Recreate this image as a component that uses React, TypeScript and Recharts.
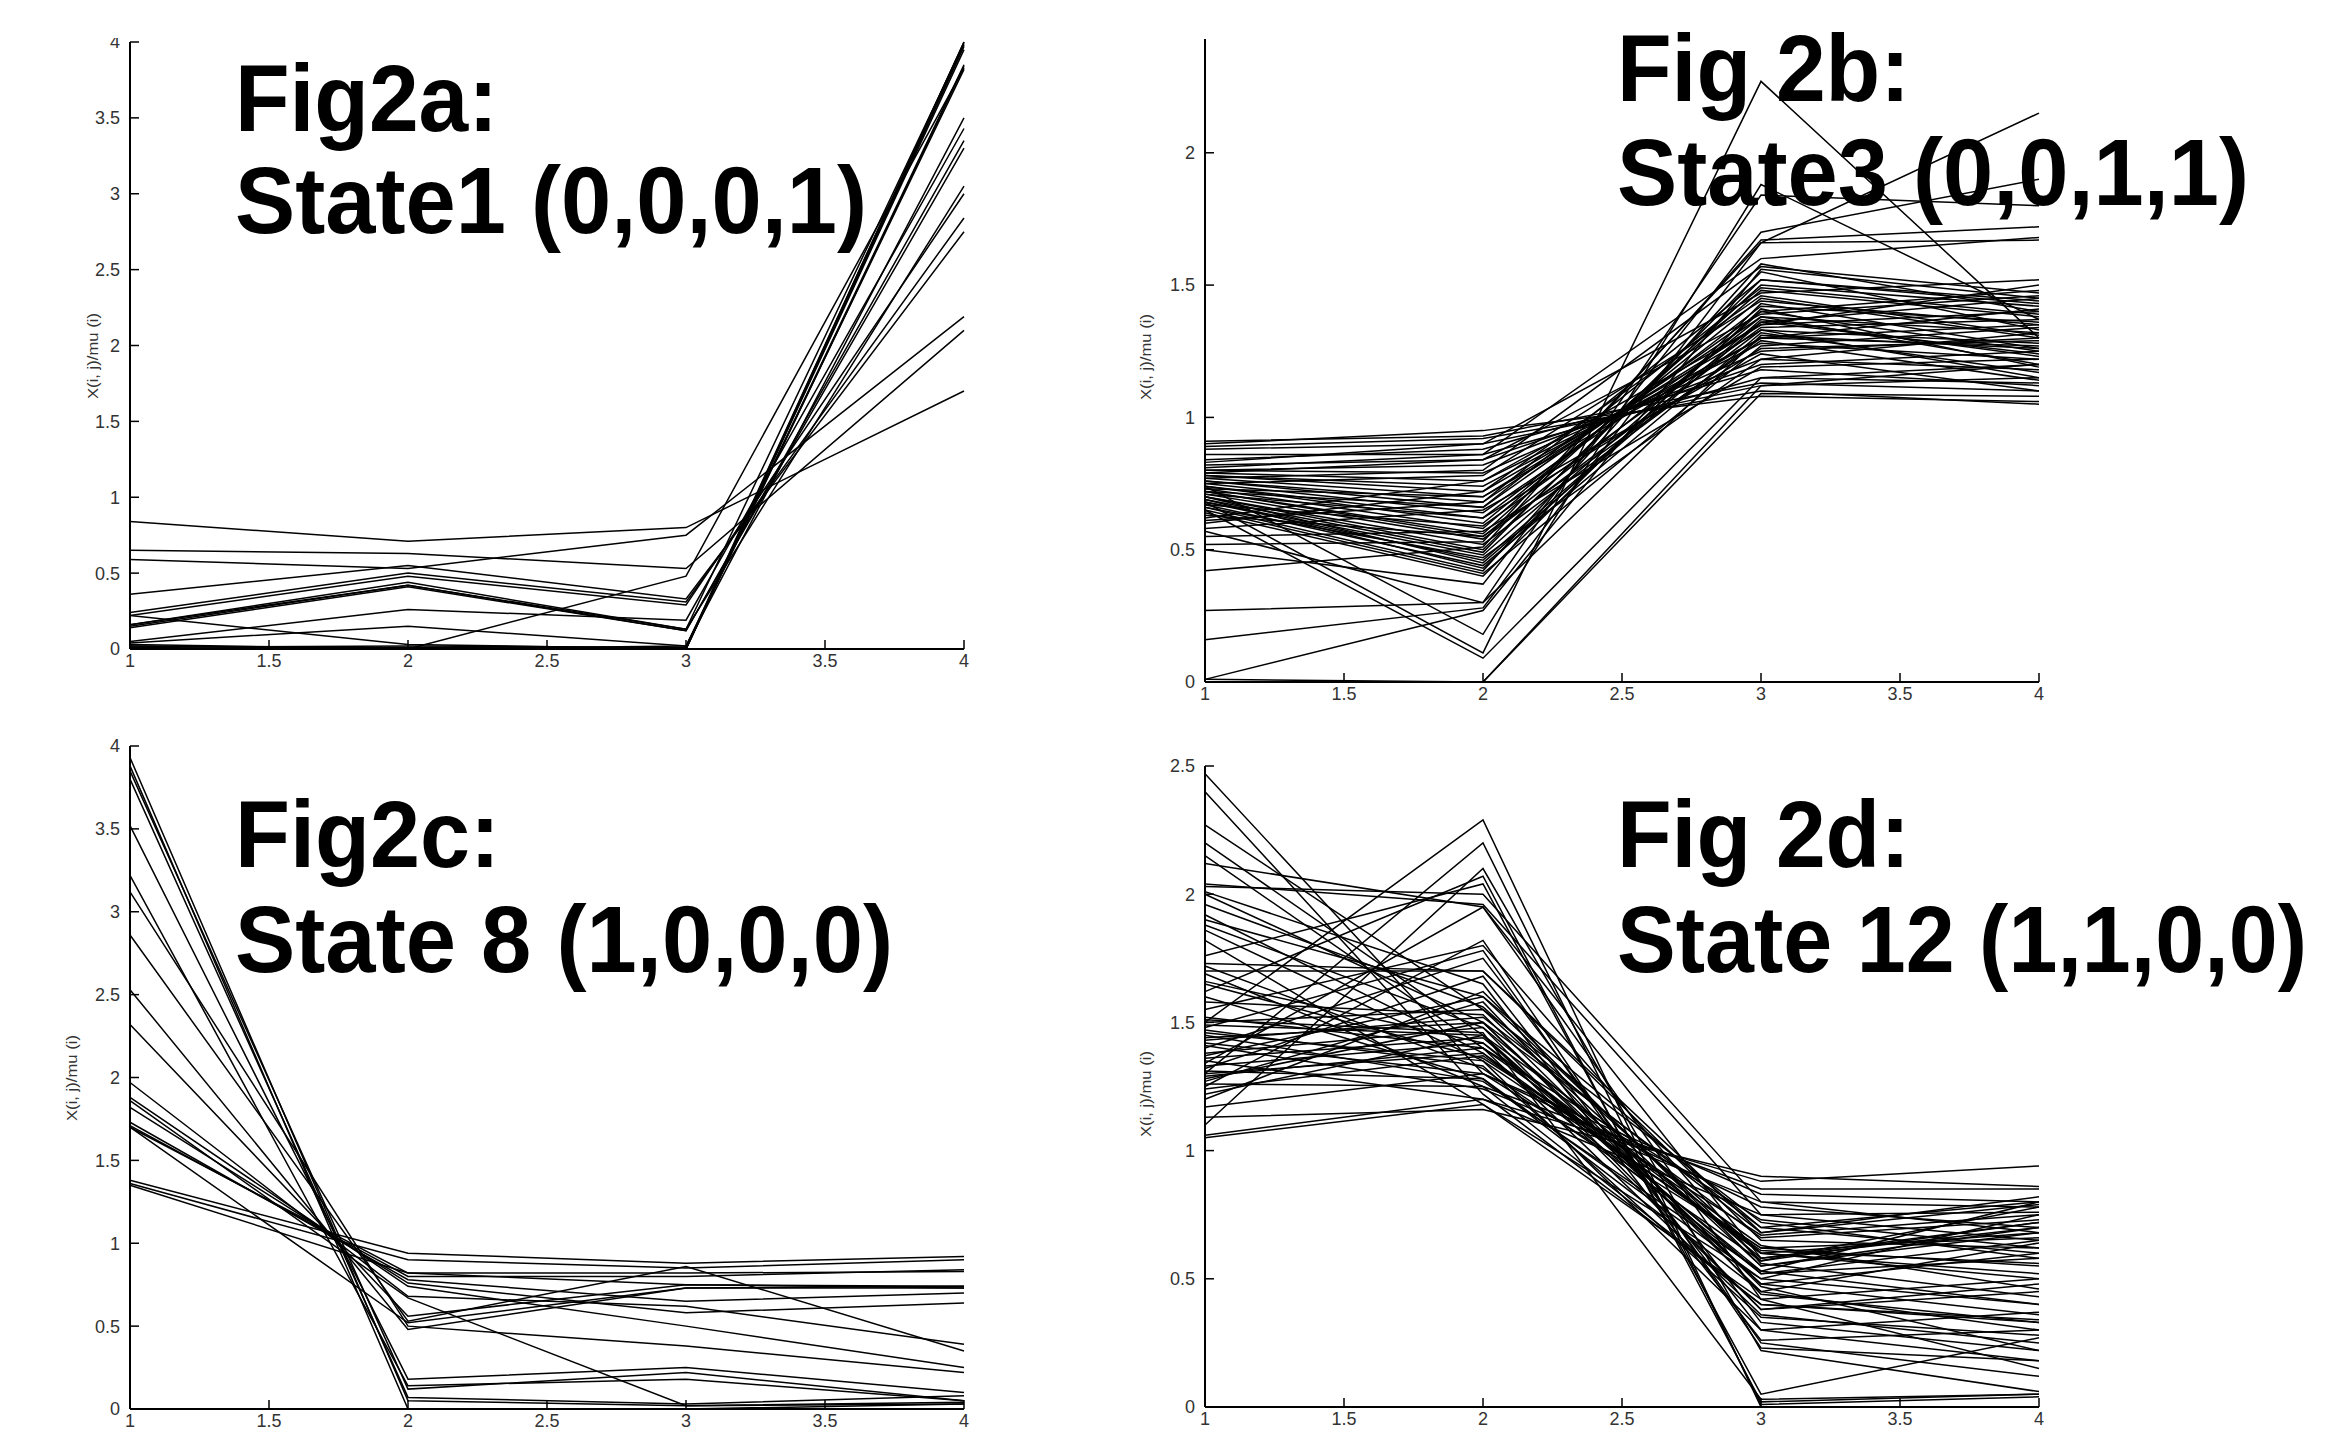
import React from 'react';
import { LineChart, Line, XAxis, YAxis } from 'recharts';

// ---------------- DATA ----------------
const timePoints = [1, 2, 3, 4];
const xTickValues = [1, 1.5, 2, 2.5, 3, 3.5, 4];
const yTicksA = [0, 0.5, 1, 1.5, 2, 2.5, 3, 3.5, 4];
const yTicksB = [0, 0.5, 1, 1.5, 2];
const yTicksC = [0, 0.5, 1, 1.5, 2, 2.5, 3, 3.5, 4];
const yTicksD = [0, 0.5, 1, 1.5, 2, 2.5];

const titleLines = [
  ['Fig2a:', 'State1 (0,0,0,1)'],
  ['Fig 2b:', 'State3 (0,0,1,1)'],
  ['Fig2c:', 'State 8 (1,0,0,0)'],
  ['Fig 2d:', 'State 12 (1,1,0,0)'],
];
const yAxisLabel = 'X(i, j)/mu (i)';

// Fig 2a: State1 (0,0,0,1)
const linesA: number[][] = [
  [0.84, 0.71, 0.80, 1.70],
  [0.65, 0.63, 0.53, 2.10],
  [0.59, 0.53, 0.75, 2.19],
  [0.36, 0.55, 0.33, 2.75],
  [0.24, 0.50, 0.31, 2.84],
  [0.22, 0.48, 0.29, 3.00],
  [0.16, 0.44, 0.13, 3.05],
  [0.15, 0.42, 0.12, 3.30],
  [0.14, 0.41, 0.12, 3.35],
  [0.05, 0.26, 0.19, 3.43],
  [0.04, 0.15, 0.02, 3.50],
  [0.02, 0.00, 0.48, 3.83],
  [0.01, 0.02, 0.01, 3.85],
  [0.00, 0.01, 0.00, 3.95],
  [0.00, 0.00, 0.00, 4.00],
  [0.03, 0.00, 0.00, 3.98],
  [0.00, 0.00, 0.01, 4.00],
  [0.22, 0.03, 0.00, 3.97],
  [0.02, 0.00, 0.02, 3.82],
  [0.16, 0.42, 0.13, 3.99],
  [0.00, 0.01, 0.00, 3.84],
];

// Fig 2b: State3 (0,0,1,1)
const linesB: number[][] = [
  [0.91, 0.93, 1.13, 1.10],
  [0.90, 0.95, 1.08, 1.06],
  [0.89, 0.92, 1.10, 1.05],
  [0.88, 0.90, 1.12, 1.15],
  [0.86, 0.86, 1.15, 1.20],
  [0.84, 0.88, 1.18, 1.12],
  [0.82, 0.84, 1.20, 1.25],
  [0.80, 0.82, 1.22, 1.18],
  [0.80, 0.79, 1.25, 1.30],
  [0.79, 0.76, 1.28, 1.22],
  [0.78, 0.74, 1.30, 1.35],
  [0.78, 0.72, 1.33, 1.28],
  [0.77, 0.70, 1.35, 1.40],
  [0.76, 0.68, 1.38, 1.32],
  [0.76, 0.66, 1.40, 1.25],
  [0.75, 0.64, 1.36, 1.45],
  [0.74, 0.62, 1.42, 1.36],
  [0.74, 0.60, 1.45, 1.30],
  [0.73, 0.58, 1.48, 1.38],
  [0.72, 0.56, 1.50, 1.42],
  [0.72, 0.55, 1.38, 1.20],
  [0.71, 0.54, 1.33, 1.15],
  [0.70, 0.52, 1.30, 1.27],
  [0.70, 0.50, 1.52, 1.44],
  [0.69, 0.49, 1.55, 1.33],
  [0.68, 0.48, 1.40, 1.48],
  [0.68, 0.46, 1.37, 1.23],
  [0.67, 0.44, 1.32, 1.17],
  [0.66, 0.42, 1.58, 1.40],
  [0.65, 0.41, 1.27, 1.34],
  [0.64, 0.40, 1.43, 1.26],
  [0.62, 0.76, 1.35, 1.50],
  [0.60, 0.72, 1.46, 1.31],
  [0.58, 0.65, 1.24, 1.10],
  [0.55, 0.57, 1.19, 1.22],
  [0.52, 0.53, 1.66, 1.67],
  [0.50, 0.37, 1.70, 1.90],
  [0.42, 0.51, 1.67, 1.72],
  [0.27, 0.30, 1.84, 1.80],
  [0.16, 0.28, 1.66, 2.15],
  [0.01, 0.27, 1.56, 1.45],
  [0.00, 0.00, 1.12, 1.20],
  [0.01, 0.00, 1.09, 1.08],
  [0.74, 0.18, 1.88, 1.37],
  [0.68, 0.11, 2.27, 1.30],
  [0.65, 0.09, 1.15, 1.13],
  [0.83, 0.90, 1.47, 1.52],
  [0.81, 0.86, 1.60, 1.68],
  [0.77, 0.80, 1.57, 1.47],
  [0.75, 0.78, 1.44, 1.35],
  [0.73, 0.70, 1.30, 1.41],
  [0.71, 0.62, 1.26, 1.29],
  [0.70, 0.45, 1.36, 1.24],
  [0.69, 0.43, 1.41, 1.19],
  [0.67, 0.59, 1.34, 1.37],
  [0.66, 0.47, 1.22, 1.32],
  [0.63, 0.55, 1.29, 1.14],
  [0.61, 0.68, 1.52, 1.43],
  [0.57, 0.30, 1.31, 1.26],
  [0.79, 0.84, 1.39, 1.46],
  [0.72, 0.66, 1.49, 1.39],
];

// Fig 2c: State 8 (1,0,0,0)
const linesC: number[][] = [
  [3.93, 0.05, 0.02, 0.04],
  [3.88, 0.00, 0.00, 0.03],
  [3.85, 0.12, 0.22, 0.05],
  [3.80, 0.07, 0.03, 0.08],
  [3.52, 0.18, 0.25, 0.10],
  [3.22, 0.14, 0.18, 0.05],
  [3.12, 0.50, 0.38, 0.22],
  [2.86, 0.53, 0.86, 0.35],
  [2.53, 0.48, 0.73, 0.74],
  [2.32, 0.56, 0.75, 0.73],
  [1.97, 0.68, 0.62, 0.39],
  [1.88, 0.74, 0.50, 0.25],
  [1.86, 0.67, 0.02, 0.03],
  [1.82, 0.76, 0.58, 0.64],
  [1.73, 0.78, 0.65, 0.70],
  [1.71, 0.80, 0.80, 0.84],
  [1.70, 0.82, 0.75, 0.74],
  [1.38, 0.94, 0.88, 0.92],
  [1.36, 0.90, 0.85, 0.90],
  [1.35, 0.82, 0.82, 0.83],
  [1.70, 0.52, 0.73, 0.73],
];

// Fig 2d: State 12 (1,1,0,0)
const linesD: number[][] = [
  [2.47, 1.30, 0.62, 0.55],
  [2.40, 1.22, 0.40, 0.33],
  [2.27, 1.55, 0.55, 0.70],
  [2.20, 1.45, 0.48, 0.60],
  [2.15, 1.40, 0.36, 0.25],
  [2.12, 1.95, 0.58, 0.72],
  [2.04, 1.96, 0.75, 0.65],
  [2.03, 2.00, 0.80, 0.78],
  [2.00, 1.50, 0.45, 0.30],
  [1.92, 1.38, 0.60, 0.68],
  [1.90, 1.60, 0.70, 0.80],
  [1.86, 1.35, 0.30, 0.18],
  [1.82, 1.18, 0.42, 0.50],
  [1.76, 2.04, 0.05, 0.27],
  [1.73, 1.70, 0.65, 0.62],
  [1.70, 1.70, 0.68, 0.82],
  [1.69, 1.25, 0.85, 0.85],
  [1.66, 1.42, 0.53, 0.40],
  [1.62, 2.07, 0.02, 0.05],
  [1.60, 1.28, 0.50, 0.75],
  [1.55, 1.80, 0.56, 0.43],
  [1.50, 2.29, 0.00, 0.00],
  [1.50, 1.55, 0.72, 0.58],
  [1.49, 1.45, 0.38, 0.48],
  [1.48, 1.78, 0.25, 0.12],
  [1.46, 1.35, 0.62, 0.66],
  [1.44, 1.50, 0.48, 0.36],
  [1.42, 1.30, 0.78, 0.70],
  [1.40, 1.75, 0.33, 0.22],
  [1.37, 1.60, 0.57, 0.78],
  [1.35, 1.20, 0.88, 0.94],
  [1.33, 1.42, 0.60, 0.52],
  [1.31, 1.28, 0.45, 0.64],
  [1.30, 2.20, 0.01, 0.04],
  [1.30, 1.38, 0.52, 0.58],
  [1.28, 1.50, 0.70, 0.60],
  [1.26, 1.25, 0.40, 0.34],
  [1.25, 1.82, 0.23, 0.18],
  [1.22, 1.45, 0.66, 0.73],
  [1.20, 1.62, 0.55, 0.68],
  [1.17, 1.30, 0.83, 0.80],
  [1.13, 1.16, 0.90, 0.86],
  [1.10, 2.10, 0.22, 0.06],
  [1.06, 1.20, 0.75, 0.76],
  [1.05, 1.18, 0.50, 0.40],
  [1.52, 1.40, 0.63, 0.46],
  [1.47, 1.33, 0.35, 0.28],
  [1.38, 1.48, 0.58, 0.70],
  [1.34, 1.95, 0.42, 0.15],
  [1.29, 1.40, 0.73, 0.62],
  [1.45, 1.27, 0.53, 0.80],
  [1.58, 1.53, 0.47, 0.22],
  [1.65, 1.36, 0.67, 0.75],
  [1.88, 1.48, 0.38, 0.45],
  [1.96, 1.56, 0.60, 0.50],
  [1.32, 1.68, 0.30, 0.37],
  [1.24, 1.37, 0.61, 0.56],
  [1.41, 1.24, 0.80, 0.68],
  [1.36, 1.44, 0.52, 0.65],
  [1.27, 1.58, 0.44, 0.33],
  [1.72, 1.32, 0.57, 0.72],
  [1.51, 1.46, 0.03, 0.05],
  [1.43, 1.52, 0.68, 0.79],
  [2.01, 1.65, 0.26, 0.30],
];

// ---------------- LAYOUT ----------------
type Plot = { left: number; top: number; right: number; bottom: number };

const FONT = '"Liberation Sans", Arial, Helvetica, sans-serif';

function toRows(lines: number[][]) {
  return timePoints.map((t, i) => {
    const row: Record<string, number> = { t };
    lines.forEach((l, k) => {
      row['l' + k] = l[i];
    });
    return row;
  });
}

function Panel({ lines, yDomain, yTicks, plot }: { lines: number[][]; yDomain: [number, number]; yTicks: number[]; plot: Plot }) {
  const YW = 80, MT = 20, MR = 20, XH = 50;
  const pw = plot.right - plot.left;
  const ph = plot.bottom - plot.top;
  const tickStyle = { fontSize: 18, fill: '#333', fontFamily: FONT };
  return (
    <div style={{ position: 'absolute', left: plot.left - YW, top: plot.top - MT, zIndex: 1 }}>
      <LineChart width={YW + pw + MR} height={MT + ph + XH} data={toRows(lines)} margin={{ top: MT, right: MR, bottom: 0, left: 0 }}>
        <XAxis
          dataKey="t"
          type="number"
          domain={[1, 4]}
          ticks={xTickValues}
          interval={0}
          height={XH}
          tickSize={-9}
          tickMargin={14}
          axisLine={{ stroke: '#000', strokeWidth: 2 }}
          tickLine={{ stroke: '#000', strokeWidth: 1.5 }}
          tick={tickStyle}
        />
        <YAxis
          type="number"
          domain={yDomain}
          ticks={yTicks}
          interval={0}
          width={YW}
          tickSize={-9}
          tickMargin={19}
          axisLine={{ stroke: '#000', strokeWidth: 2 }}
          tickLine={{ stroke: '#000', strokeWidth: 1.5 }}
          tick={tickStyle}
        />
        {lines.map((_, k) => (
          <Line key={k} type="linear" dataKey={'l' + k} stroke="#000" strokeWidth={1.5} dot={false} activeDot={false} isAnimationActive={false} />
        ))}
      </LineChart>
    </div>
  );
}

const plotA: Plot = { left: 130, top: 42, right: 964, bottom: 649 };
const plotB: Plot = { left: 1205, top: 39, right: 2039, bottom: 682 };
const plotC: Plot = { left: 130, top: 746, right: 964, bottom: 1409 };
const plotD: Plot = { left: 1205, top: 766, right: 2039, bottom: 1407 };

const titleLayout = [
  { x: 235, y1: 131, y2: 233, w1: 263, w2: 632 },
  { x: 1617, y1: 101, y2: 205, w1: 293, w2: 632 },
  { x: 235, y1: 867, y2: 972, w1: 265, w2: 658 },
  { x: 1617, y1: 867, y2: 972, w1: 293, w2: 690 },
];
const yLabelLayout = [
  { x: 92, y: 356 },
  { x: 1145, y: 357 },
  { x: 71, y: 1078 },
  { x: 1145, y: 1094 },
];

const TITLE_SIZE = 88;
const TITLE_VSTRETCH = 1.08;

export default function App() {
  return (
    <div style={{ position: 'absolute', left: 0, top: 0, width: 2331, height: 1447, background: '#fff', overflow: 'hidden' }}>
      <Panel lines={linesA} yDomain={[0, 4]} yTicks={yTicksA} plot={plotA} />
      <Panel lines={linesB} yDomain={[0, 2.43]} yTicks={yTicksB} plot={plotB} />
      <Panel lines={linesC} yDomain={[0, 4]} yTicks={yTicksC} plot={plotC} />
      <Panel lines={linesD} yDomain={[0, 2.5]} yTicks={yTicksD} plot={plotD} />
      <div style={{ position: 'absolute', left: 0, top: 0, width: 2331, height: 38, background: '#fff', zIndex: 2 }} />
      <svg width={2331} height={1447} style={{ position: 'absolute', left: 0, top: 0, zIndex: 3, pointerEvents: 'none' }}>
        {yLabelLayout.map((p, i) => (
          <text key={'yl' + i} x={p.x} y={p.y} transform={`rotate(-90 ${p.x} ${p.y})`} textAnchor="middle" dominantBaseline="central" fontSize={15} fill="#333" fontFamily={FONT} textLength={86} lengthAdjust="spacingAndGlyphs">
            {yAxisLabel}
          </text>
        ))}
        {titleLayout.map((p, i) => (
          <g key={'t' + i}>
            <text x={0} y={0} transform={`translate(${p.x} ${p.y1}) scale(1 ${TITLE_VSTRETCH})`} fontSize={TITLE_SIZE} fontWeight="bold" fontFamily={FONT} fill="#000" textLength={p.w1} lengthAdjust="spacingAndGlyphs">
              {titleLines[i][0]}
            </text>
            <text x={0} y={0} transform={`translate(${p.x} ${p.y2}) scale(1 ${TITLE_VSTRETCH})`} fontSize={TITLE_SIZE} fontWeight="bold" fontFamily={FONT} fill="#000" textLength={p.w2} lengthAdjust="spacingAndGlyphs">
              {titleLines[i][1]}
            </text>
          </g>
        ))}
      </svg>
    </div>
  );
}
